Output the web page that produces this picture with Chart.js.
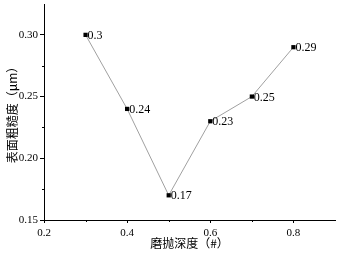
<!DOCTYPE html>
<html>
<head>
<meta charset="utf-8">
<script src="https://cdn.jsdelivr.net/npm/chart.js@4.4.1/dist/chart.umd.min.js"></script>
<style>
  html, body { margin: 0; padding: 0; background: #fff; }
  #wrap { width: 340px; height: 256px; }
</style>
</head>
<body>
<div id="wrap"><canvas id="roughChart"></canvas></div>
<script>
const depth = [0.3, 0.4, 0.5, 0.6, 0.7, 0.8];
const roughness = [0.30, 0.24, 0.17, 0.23, 0.25, 0.29];
const pointLabels = ['0.3', '0.24', '0.17', '0.23', '0.25', '0.29'];
const xTicks = [0.2, 0.4, 0.6, 0.8];
const xMinor = [0.3, 0.5, 0.7];
const yTicks = [0.15, 0.20, 0.25, 0.30];
const yMinor = [0.175, 0.225, 0.275];

const serif = '"Liberation Serif", "DejaVu Serif", serif';
const cjk = '"Noto Sans CJK SC", sans-serif';

// minor ticks + point value labels
const extras = {
    id: 'extras',
    afterDraw(chart) {
        const ctx = chart.ctx;
        const xs = chart.scales.x, ys = chart.scales.y;
        const area = chart.chartArea;
        ctx.save();
        ctx.strokeStyle = '#000';
        ctx.lineWidth = 1;
        ctx.beginPath();
        xMinor.forEach(v => {
            const px = Math.round(xs.getPixelForValue(v)) + 0.5;
            ctx.moveTo(px, area.bottom);
            ctx.lineTo(px, area.bottom + 2);
        });
        yMinor.forEach(v => {
            const py = Math.round(ys.getPixelForValue(v)) + 0.5;
            ctx.moveTo(area.left, py);
            ctx.lineTo(area.left - 2, py);
        });
        ctx.stroke();

        ctx.fillStyle = '#000';
        ctx.font = '12px ' + serif;
        ctx.textBaseline = 'middle';
        ctx.textAlign = 'left';
        const meta = chart.getDatasetMeta(0);
        meta.data.forEach((pt, i) => {
            ctx.fillText(pointLabels[i], pt.x + 2, pt.y + 1);
        });
        ctx.restore();
    }
};

const ctx = document.getElementById('roughChart').getContext('2d');
new Chart(ctx, {
    type: 'line',
    data: {
        datasets: [{
            data: depth.map((d, i) => ({ x: d, y: roughness[i] })),
            borderColor: '#a0a0a0',
            borderWidth: 1,
            pointStyle: 'rect',
            pointRadius: 3,
            pointBackgroundColor: '#000',
            pointBorderColor: '#000',
            pointBorderWidth: 0,
            tension: 0
        }]
    },
    options: {
        responsive: true,
        maintainAspectRatio: false,
        animation: false,
        layout: { padding: { top: 4, right: 5, left: 0, bottom: 0 } },
        plugins: {
            legend: { display: false },
            tooltip: { enabled: false }
        },
        scales: {
            x: {
                type: 'linear',
                min: 0.2,
                max: 0.9,
                afterBuildTicks: (s) => { s.ticks = xTicks.map(v => ({ value: v })); },
                afterFit: (s) => { s.height = 36; s.paddingLeft = 0; s.paddingRight = 0; },
                border: { display: true, color: '#000', width: 1 },
                grid: { drawOnChartArea: false, tickLength: 3, color: '#000' },
                ticks: {
                    color: '#000',
                    padding: 4,
                    maxRotation: 0,
                    font: { family: serif, size: 11 },
                    callback: (v) => v.toFixed(1)
                },
                title: {
                    display: true,
                    text: '磨抛深度（#）',
                    color: '#000',
                    padding: { top: 0, bottom: 5 },
                    font: { family: cjk, size: 12 }
                }
            },
            y: {
                min: 0.15,
                max: 0.325,
                afterBuildTicks: (s) => { s.ticks = yTicks.map(v => ({ value: v })); },
                afterFit: (s) => { s.width = 44; s.paddingTop = 0; s.paddingBottom = 0; },
                border: { display: true, color: '#000', width: 1 },
                grid: { drawOnChartArea: false, tickLength: 4, color: '#000' },
                ticks: {
                    color: '#000',
                    padding: 2,
                    font: { family: serif, size: 11 },
                    callback: (v) => v.toFixed(2)
                },
                title: {
                    display: true,
                    text: '表面粗糙度（μm）',
                    color: '#000',
                    padding: { top: 5, bottom: 0 },
                    font: { family: cjk, size: 12 }
                }
            }
        }
    },
    plugins: [extras]
});
</script>
</body>
</html>
